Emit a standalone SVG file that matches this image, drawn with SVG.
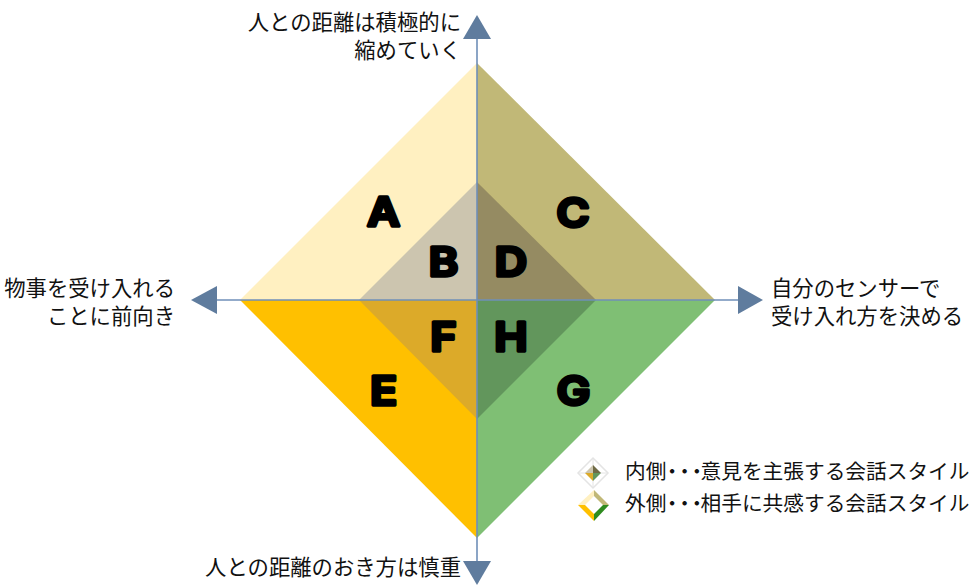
<svg xmlns="http://www.w3.org/2000/svg" width="970" height="586" viewBox="0 0 970 586">
<style>
.t{font-family:"Noto Sans CJK JP","Liberation Sans",sans-serif;font-size:21.35px;fill:#111}
.s{font-size:20.7px}
.l{font-family:"Inter","Liberation Sans",sans-serif;font-size:40px;font-weight:600;fill:#000;stroke:#000;stroke-width:3.5px;stroke-linejoin:round;text-anchor:middle}
.e{text-anchor:end}
.d{font-feature-settings:"palt";letter-spacing:2px}
.ax{stroke:#6f8fb8;stroke-width:1.6;fill:none}
.ah{fill:#5f7c9e}
</style>
<rect width="970" height="586" fill="#fff"/>
<g id="quadrants">
<polygon id="qa" points="477,63 240,300 477,300" fill="#fff0c1"/>
<polygon id="qc" points="477,63 715,300 477,300" fill="#c1b877"/>
<polygon id="qe" points="240,300 477,538 477,300" fill="#ffc000"/>
<polygon id="qg" points="715,300 477,538 477,300" fill="#7fbf74"/>
<polygon id="qb" points="477,182 359,300 477,300" fill="#ccc5af"/>
<polygon id="qd" points="477,182 596,300 477,300" fill="#958b62"/>
<polygon id="qf" points="359,300 477,419 477,300" fill="#dcaa29"/>
<polygon id="qh" points="596,300 477,419 477,300" fill="#62965c"/>
</g>
<g id="connectors">
<line class="ax" x1="477" y1="39" x2="477" y2="561"/>
<line class="ax" x1="217" y1="300" x2="738" y2="300"/>
<polygon class="ah" points="477,15 491,39 463,39"/>
<polygon class="ah" points="477,585 491,561 463,561"/>
<polygon class="ah" points="191,300 217,286 217,314"/>
<polygon class="ah" points="763,300 738,286 738,314"/>
</g>
<g id="letters">
<text class="l" transform="translate(383.5,226) scale(1.12,1)">A</text>
<text class="l" transform="translate(443.5,276) scale(1.12,1)">B</text>
<text class="l" transform="translate(573,226.5) scale(1.12,1)">C</text>
<text class="l" transform="translate(511,276) scale(1.12,1)">D</text>
<text class="l" transform="translate(383.5,405) scale(1.12,1)">E</text>
<text class="l" transform="translate(443.5,351) scale(1.12,1)">F</text>
<text class="l" transform="translate(573.5,405) scale(1.12,1)">G</text>
<text class="l" transform="translate(511,351) scale(1.12,1)">H</text>
</g>
<g id="axis-labels">
<text class="t e" x="461" y="30">人との距離は積極的に</text>
<text class="t e" x="461" y="58">縮めていく</text>
<text class="t e" x="175" y="296">物事を受け入れる</text>
<text class="t e" x="175" y="324">ことに前向き</text>
<text class="t" x="771" y="296">自分のセンサーで</text>
<text class="t" x="771" y="324">受け入れ方を決める</text>
<text class="t e" x="461" y="575">人との距離のおき方は慎重</text>
</g>
<g id="legend-inner">
<polygon points="593,458 608,473 593,488 578,473" fill="#fff" stroke="#e4e4e4" stroke-width="1.5"/>
<line x1="593" y1="458" x2="593" y2="488" stroke="#e4e4e4"/>
<line x1="578" y1="473" x2="608" y2="473" stroke="#e4e4e4"/>
<polygon points="593,465 585,473 593,473" fill="#ccc5af"/>
<polygon points="593,465 601,473 593,473" fill="#6f6a45"/>
<polygon points="585,473 593,481 593,473" fill="#dcaa29"/>
<polygon points="601,473 593,481 593,473" fill="#62965c"/>
<text class="t s" x="625" y="479">内側<tspan class="d" x="667">・・・</tspan><tspan x="700.5">意見を主張する会話スタイル</tspan></text>
</g>
<g id="legend-outer">
<polygon points="594,490 594,505 578,505" fill="#fff0c1"/>
<polygon points="594,490 609,505 594,505" fill="#c1b877"/>
<polygon points="578,505 594,521 594,505" fill="#ffc000"/>
<polygon points="609,505 594,521 594,505" fill="#2e8b1f"/>
<polygon points="594,496 603,505 594,514 585,505" fill="#fff"/>
<text class="t s" x="625" y="511">外側<tspan class="d" x="667">・・・</tspan><tspan x="700.5">相手に共感する会話スタイル</tspan></text>
</g>
</svg>
